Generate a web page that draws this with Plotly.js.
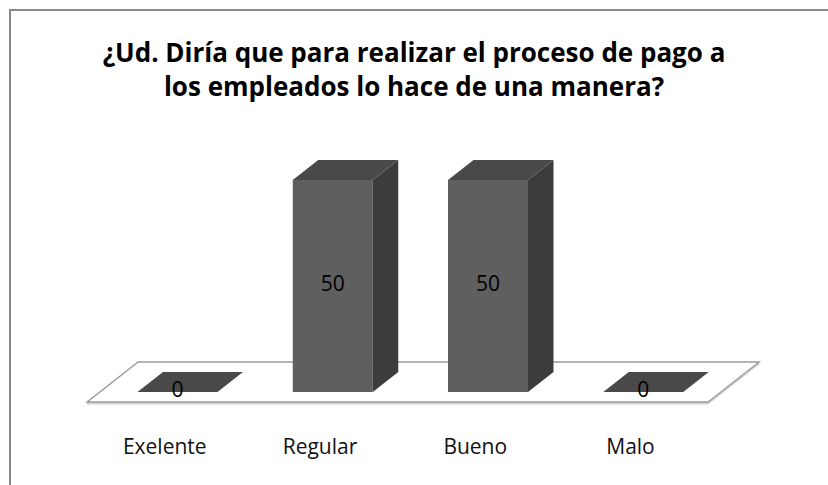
<!DOCTYPE html>
<html>
<head>
<meta charset="utf-8">
<script src="https://cdn.plot.ly/plotly-3.0.1.min.js"></script>
<style>
  html, body { margin: 0; padding: 0; background: #ffffff; }
  #wrap { position: relative; width: 828px; height: 485px; overflow: hidden; }
  #chart { position: absolute; left: 0; top: 0; width: 828px; height: 485px; }
  #frame { position: absolute; left: 9px; top: 9px; right: -10px; bottom: -10px;
           border-left: 2px solid #888888; border-top: 2px solid #888888; pointer-events: none; }
</style>
</head>
<body>
<div id="wrap">
  <div id="chart"></div>
  <div id="frame"></div>
</div>
<script>
// ---- data ----
const categories = ['Exelente', 'Regular', 'Bueno', 'Malo'];
const values = [0, 50, 50, 0];
const valueLabels = ['0', '50', '50', '0'];
const chartTitle = '¿Ud. Diría que para realizar el proceso de pago a<br>los empleados lo hace de una manera?';

// ---- 3D projection settings (style) ----
const PX_X = 155.25;          // pixels per category unit
const PX_Y = 4.24;            // pixels per value unit
const DEPTH_DX = 51 / PX_X;   // full floor depth, x shift (data units)
const DEPTH_DY = 40 / PX_Y;   // full floor depth, y shift (data units)
const FRONT = 0.25, BACK = 0.75;
const HALF = 40 / PX_X;       // half bar width
const PLOT_H = 425;

const idx = categories.map((c, i) => i);
const centers = idx.map(i => i + FRONT * DEPTH_DX);
const bases = idx.map(() => FRONT * DEPTH_DY);
const dd = (BACK - FRONT) * DEPTH_DX;
const dy = (BACK - FRONT) * DEPTH_DY;

const traces = [];
// front faces (bars)
traces.push({
  type: 'bar', x: centers, y: values, base: bases, width: idx.map(() => 2 * HALF),
  marker: { color: '#5f5f5f', line: { width: 0 } }, hoverinfo: 'skip', showlegend: false
});
// side and top faces
idx.forEach(i => {
  const cx = centers[i], b = bases[i], top = b + values[i];
  traces.push({
    type: 'scatter', mode: 'lines', fill: 'toself', fillcolor: '#3c3c3c',
    line: { width: 0, color: '#3c3c3c' },
    x: [cx + HALF, cx + HALF + dd, cx + HALF + dd, cx + HALF, cx + HALF],
    y: [b, b + dy, top + dy, top, b],
    hoverinfo: 'skip', showlegend: false
  });
  traces.push({
    type: 'scatter', mode: 'lines', fill: 'toself', fillcolor: '#494949',
    line: { width: 0, color: '#494949' },
    x: [cx - HALF, cx + HALF, cx + HALF + dd, cx - HALF + dd, cx - HALF],
    y: [top, top, top + dy, top + dy, top],
    hoverinfo: 'skip', showlegend: false
  });
});
// data labels
traces.push({
  type: 'scatter', mode: 'text',
  x: centers, y: idx.map(i => bases[i] + values[i] / 2), text: valueLabels,
  textposition: 'middle center',
  textfont: { family: 'Open Sans, sans-serif', size: 21, color: '#000000' },
  hoverinfo: 'skip', showlegend: false
});

const n = categories.length;
const fx0 = -0.5, fx1 = n - 0.5;
const floorPath = (yoff) => 'M ' + fx0 + ' ' + yoff + ' L ' + fx1 + ' ' + yoff +
  ' L ' + (fx1 + DEPTH_DX) + ' ' + (DEPTH_DY + yoff) + ' L ' + (fx0 + DEPTH_DX) + ' ' + (DEPTH_DY + yoff) + ' Z';

const layout = {
  width: 828, height: 485,
  margin: { l: 0, r: 0, t: 0, b: 485 - PLOT_H },
  paper_bgcolor: '#ffffff', plot_bgcolor: '#ffffff',
  showlegend: false,
  title: {
    text: chartTitle,
    font: { family: 'Open Sans, sans-serif', size: 26, color: '#000000', weight: 'bold' },
    x: 0.5, xanchor: 'center', xref: 'paper',
    y: 1 - 62 / 485, yref: 'container', yanchor: 'top'
  },
  xaxis: {
    range: [-164.75 / PX_X, (828 - 164.75) / PX_X],
    tickvals: idx, ticktext: categories,
    showgrid: false, zeroline: false, showline: false, ticks: '',
    tickfont: { family: 'Open Sans, sans-serif', size: 21, color: '#111111' },
    ticklabelstandoff: 7, fixedrange: true
  },
  yaxis: {
    range: [-(PLOT_H - 402) / PX_Y, 402 / PX_Y],
    showgrid: false, zeroline: false, showline: false, showticklabels: false, ticks: '',
    fixedrange: true
  },
  shapes: [
    { type: 'path', xref: 'x', yref: 'y', layer: 'below', path: floorPath(-0.45),
      fillcolor: '#e6e6e6', line: { color: '#c8c8c8', width: 1 } },
    { type: 'path', xref: 'x', yref: 'y', layer: 'below', path: floorPath(0),
      fillcolor: '#ffffff', line: { color: '#9a9a9a', width: 1.4 } }
  ]
};

Plotly.newPlot('chart', traces, layout, { displayModeBar: false, staticPlot: true });
</script>
</body>
</html>
